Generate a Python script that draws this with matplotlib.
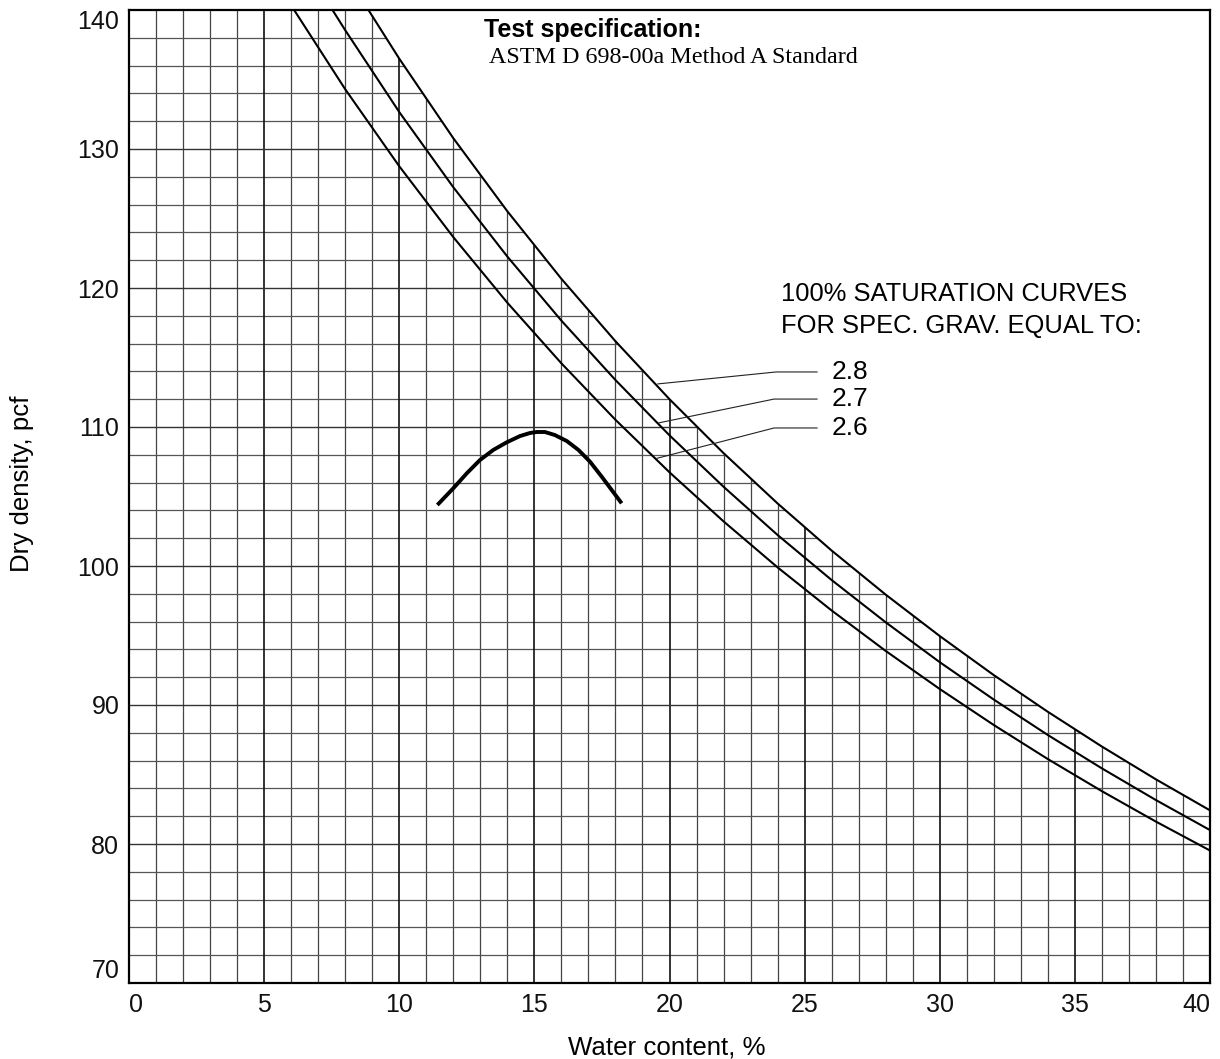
import matplotlib
matplotlib.use("Agg")
import matplotlib.pyplot as plt
from matplotlib.patches import Polygon

plt.rcParams['font.family'] = ['Liberation Sans', 'DejaVu Sans']

# 100% saturation curves (water content %, dry density pcf)
w_28 = [8.86, 10, 12, 14, 16, 18, 20, 22, 24, 26, 28, 30, 32, 34, 36, 38, 40]
d_28 = [140.0, 136.50, 130.78, 125.52, 120.66, 116.17, 112.00, 108.12, 104.50,
        101.11, 97.94, 94.96, 92.15, 89.51, 87.01, 84.65, 82.42]
w_27 = [7.53, 8, 10, 12, 14, 16, 18, 20, 22, 24, 26, 28, 30, 32, 34, 36, 38, 40]
d_27 = [140.0, 138.55, 132.66, 127.25, 122.26, 117.65, 113.38, 109.40, 105.70,
        102.23, 98.99, 95.95, 93.08, 90.39, 87.84, 85.44, 83.16, 81.00]
w_26 = [6.11, 8, 10, 12, 14, 16, 18, 20, 22, 24, 26, 28, 30, 32, 34, 36, 38, 40]
d_26 = [140.0, 134.30, 128.76, 123.66, 118.94, 114.58, 110.52, 106.74, 103.21,
        99.90, 96.80, 93.89, 91.15, 88.56, 86.11, 83.80, 81.61, 79.53]

# compaction curve
w_comp = [11.41, 12.00, 12.50, 12.99, 13.48, 13.98, 14.47, 14.84, 15.09, 15.39,
          15.76, 16.20, 16.63, 17.06, 17.49, 17.86, 18.23]
d_comp = [104.39, 105.59, 106.67, 107.63, 108.35, 108.90, 109.35, 109.57, 109.64,
          109.64, 109.42, 108.99, 108.35, 107.50, 106.43, 105.47, 104.51]

# leader lines: curve point, bend, end
gs_labels = ["2.8", "2.7", "2.6"]
lead_x = [[19.57, 23.95, 25.46], [19.61, 23.87, 25.46], [19.54, 23.87, 25.46]]
lead_y = [[113.1, 113.96, 113.96], [110.3, 112.01, 112.01], [107.75, 109.93, 109.93]]

xticks = [0, 5, 10, 15, 20, 25, 30, 35, 40]
yticks = [70, 80, 90, 100, 110, 120, 130, 140]
x_grid = list(range(1, 40))
y_grid = list(range(72, 140, 2))

fig = plt.figure(figsize=(12.2, 10.59), dpi=100)
ax = fig.add_axes([129 / 1220, 1 - 983 / 1059, 1081 / 1220, 973 / 1059])

ax.set_xlim(0, 40)
ax.set_ylim(70, 140)
ax.set_xticks(xticks)
ax.set_yticks(yticks)
ax.tick_params(which='both', length=0, labelsize=18, pad=7, colors='#111111')
for s in ax.spines.values():
    s.set_linewidth(1.6)

xl = ax.get_xticklabels()
xl[0].set_ha('left')
xl[-1].set_ha('right')
yl = ax.get_yticklabels()
yl[0].set_va('bottom')
yl[-1].set_va('top')

# grid only under the 2.8 curve
area = [(0, 70), (0, 140)] + list(zip(w_28, d_28)) + [(40, 70)]
clip = Polygon(area, closed=True, transform=ax.transData, fc='none', ec='none')
ax.add_patch(clip)

vmaj = [x for x in x_grid if x % 5 == 0]
vmin = [x for x in x_grid if x % 5 != 0]
hmaj = [y for y in y_grid if y % 10 == 0]
hmin = [y for y in y_grid if y % 10 != 0]
for lc in [ax.vlines(vmin, 70, 140, color='#444444', lw=0.9),
           ax.hlines(hmin, 0, 40, color='#555555', lw=0.9),
           ax.vlines(vmaj, 70, 140, color='#111111', lw=1.2),
           ax.hlines(hmaj, 0, 40, color='#333333', lw=1.0)]:
    lc.set_clip_path(clip)

kw = dict(color='black', lw=1.5)
ax.plot(w_28, d_28, **kw)
ax.plot(w_27, d_27, **kw)
ax.plot(w_26, d_26, **kw)
ax.plot(w_comp, d_comp, color='black', lw=2.8, solid_capstyle='butt',
        solid_joinstyle='round')

for lab, lx, ly in zip(gs_labels, lead_x, lead_y):
    ax.plot(lx, ly, color='#222222', lw=0.8)
    ax.text(26.0, ly[-1], lab, fontsize=19, va='center', ha='left')

ax.text(13.14, 138.08, "Test specification:", fontsize=18, fontweight='bold',
        va='baseline')
ax.text(13.32, 136.17, "ASTM D 698-00a Method A Standard", fontsize=17.4,
        family=['Liberation Serif', 'DejaVu Serif'], va='baseline')
ax.text(24.13, 119.06, "100% SATURATION CURVES", fontsize=18.4, va='baseline')
ax.text(24.13, 116.76, "FOR SPEC. GRAV. EQUAL TO:", fontsize=18.4, va='baseline')

fig.text(667 / 1220, 1 - 1054 / 1059, "Water content, %", fontsize=18.6,
         ha='center', va='baseline')
fig.text(22 / 1220, 1 - 484 / 1059, "Dry density, pcf", fontsize=18.6,
         rotation=90, ha='center', va='center')

fig.savefig("out.png", dpi=100)
